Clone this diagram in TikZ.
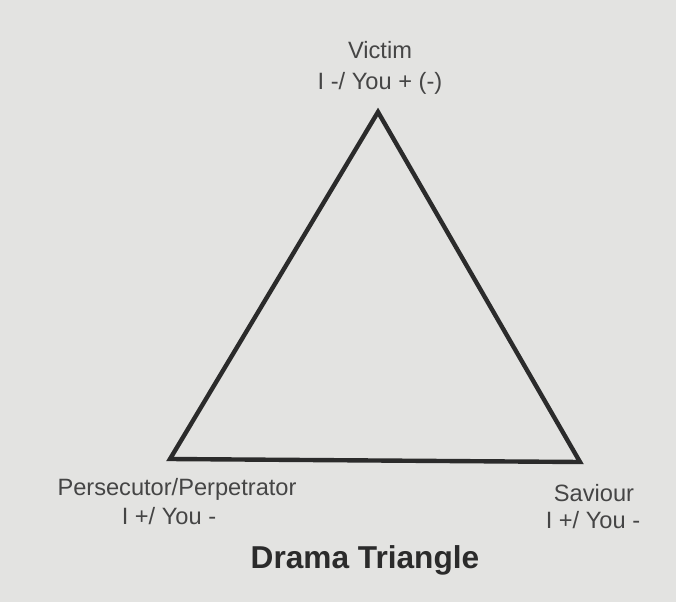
\documentclass[tikz,border=0pt]{standalone}
\usepackage{fontspec}
\setmainfont{Liberation Sans}
\usepackage{xcolor}
\usetikzlibrary{positioning}
\definecolor{PaperGrey}{HTML}{E3E3E1}
\definecolor{InkDark}{HTML}{2B2B2B}
\definecolor{LabelGrey}{HTML}{454545}

\begin{document}
\begin{tikzpicture}[x=0.025cm,y=-0.025cm,
    every node/.style={inner sep=0pt, text=LabelGrey},
    roletext/.style={font=\fontsize{16.8}{20}\selectfont, anchor=base},
    titletext/.style={font=\fontsize{22.5}{26}\selectfont\bfseries, anchor=base, text=InkDark},
    edge/.style={draw=InkDark, line width=0.11cm, line join=miter}]
  \fill[PaperGrey] (0,0) rectangle (676,602);
  \useasboundingbox (0,0) rectangle (676,602);
  % corners of the triangle
  \coordinate (victim) at (378,112);
  \coordinate (persecutor) at (170,459);
  \coordinate (saviour) at (580,462);
  \draw[edge] (victim) -- (persecutor) -- (saviour) -- cycle;
  % role labels
  \foreach \nm/\x/\y/\txt in {
    victimname/380/59/{Victim},
    victimpos/380/90/{I -/ You + (-)},
    persname/177/495/{Persecutor/Perpetrator},
    perspos/169/524/{I +/ You -},
    savname/594/501/{Saviour},
    savpos/593/528/{I +/ You -}
    }{
    \node[roletext] (\nm) at (\x,\y) {\txt};
    }
  \node[titletext] (title) at (365,568) {Drama Triangle};
\end{tikzpicture}
\end{document}
